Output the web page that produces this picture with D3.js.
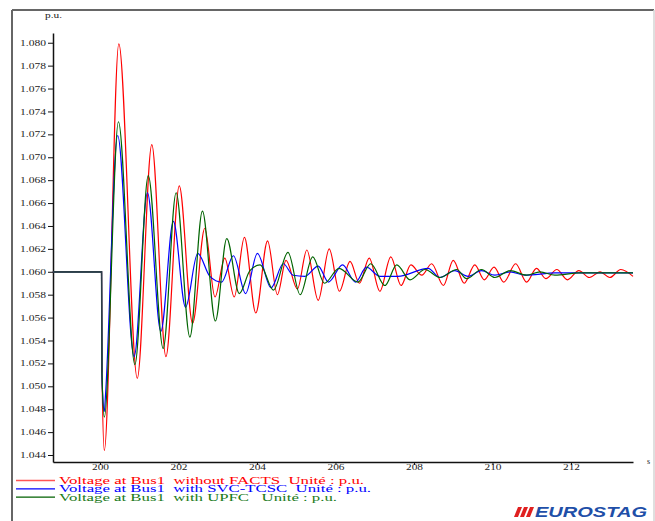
<!DOCTYPE html>
<html>
<head>
<meta charset="utf-8">
<script src="https://cdn.jsdelivr.net/npm/d3@7"></script>
<style>
  body { margin: 0; background: #fff; }
  svg { display: block; }
  .tick text { font-family: "Liberation Serif", "DejaVu Serif", serif; font-size: 8px; fill: #222; }
  .legendText { font-family: "Liberation Serif", serif; font-size: 10px; white-space: pre; }
</style>
</head>
<body>
<div id="chart"></div>
<script>
// time (s) / voltage (p.u.) pairs
var noFactsData = [
  [198.80, 1.0600], [200.04, 1.0600], [200.05, 1.0515], [200.11, 1.0444], [200.48, 1.0799],
  [200.95, 1.0507], [201.32, 1.0711], [201.68, 1.0526], [202.02, 1.0675], [202.36, 1.0555],
  [202.67, 1.0638], [202.93, 1.0578], [203.18, 1.0612], [203.42, 1.0578], [203.68, 1.0630],
  [203.97, 1.0564], [204.27, 1.0627], [204.52, 1.0580], [204.74, 1.0610], [205.03, 1.0585],
  [205.27, 1.0619], [205.56, 1.0575], [205.84, 1.0620], [206.10, 1.0583], [206.37, 1.0609],
  [206.61, 1.0590], [206.86, 1.0612], [207.13, 1.0583], [207.41, 1.0613], [207.67, 1.0588],
  [207.92, 1.0606], [208.20, 1.0597], [208.45, 1.0607], [208.75, 1.0588], [209.00, 1.0610],
  [209.28, 1.0590], [209.55, 1.0606], [209.79, 1.0593], [210.04, 1.0604], [210.29, 1.0591],
  [210.59, 1.0607], [210.87, 1.0591], [211.12, 1.0603], [211.36, 1.0594], [211.64, 1.0602],
  [211.91, 1.0593], [212.20, 1.0601], [212.47, 1.0595], [212.74, 1.0600], [212.99, 1.0595],
  [213.27, 1.0602], [213.58, 1.0596]
];

var svcTcscData = [
  [198.80, 1.0600], [200.04, 1.0600], [200.05, 1.0510], [200.07, 1.0492], [200.11, 1.0478],
  [200.14, 1.0492], [200.45, 1.0719], [200.87, 1.0526], [201.21, 1.0669], [201.55, 1.0548],
  [201.87, 1.0644], [202.18, 1.0569], [202.49, 1.0616], [202.80, 1.0596], [203.10, 1.0591],
  [203.40, 1.0614], [203.71, 1.0581], [204.01, 1.0616], [204.36, 1.0586], [204.67, 1.0607],
  [204.92, 1.0597], [205.22, 1.0596], [205.56, 1.0605], [205.82, 1.0591], [206.18, 1.0606],
  [206.51, 1.0591], [206.79, 1.0604], [207.13, 1.0596], [207.59, 1.0596], [208.36, 1.0603],
  [208.66, 1.0595], [209.04, 1.0601], [209.38, 1.0596], [209.72, 1.0601], [210.06, 1.0597],
  [210.45, 1.0600], [210.83, 1.0597], [211.60, 1.0599], [213.58, 1.0599]
];

var upfcData = [
  [198.80, 1.0600], [200.04, 1.0600], [200.05, 1.0512], [200.11, 1.0473], [200.47, 1.0731],
  [200.89, 1.0519], [201.23, 1.0684], [201.61, 1.0533], [201.94, 1.0669], [202.29, 1.0543],
  [202.61, 1.0653], [202.94, 1.0557], [203.23, 1.0629], [203.55, 1.0581], [203.82, 1.0601],
  [204.08, 1.0606], [204.42, 1.0584], [204.79, 1.0617], [205.10, 1.0580], [205.42, 1.0613],
  [205.72, 1.0590], [206.09, 1.0603], [206.57, 1.0591], [206.90, 1.0607], [207.26, 1.0588],
  [207.56, 1.0606], [207.90, 1.0593], [208.28, 1.0602], [208.66, 1.0595], [209.09, 1.0602],
  [209.34, 1.0594], [209.72, 1.0602], [210.06, 1.0595], [210.45, 1.0601], [210.87, 1.0597],
  [211.21, 1.0600], [211.59, 1.0597], [212.20, 1.0599], [213.58, 1.0599]
];

var yTicks = [1.044, 1.046, 1.048, 1.050, 1.052, 1.054, 1.056, 1.058, 1.060, 1.062,
  1.064, 1.066, 1.068, 1.070, 1.072, 1.074, 1.076, 1.078, 1.080];
var xTicks = [200, 202, 204, 206, 208, 210, 212];

var legendLabels = [
  "Voltage at Bus1  without FACTS  Unité : p.u.",
  "Voltage at Bus1  with SVC-TCSC  Unité : p.u.",
  "Voltage at Bus1  with UPFC   Unité : p.u."
];

var svgWidth = 655;
var svgHeight = 521;

var margin = { top: 33, right: 22, bottom: 59, left: 53 };
var width = svgWidth - margin.left - margin.right;
var height = svgHeight - margin.top - margin.bottom;

var svg = d3.select("#chart")
  .append("svg")
  .attr("width", svgWidth)
  .attr("height", svgHeight);

// outer frame
svg.append("line").attr("x1", 12).attr("x2", 654).attr("y1", 10).attr("y2", 10)
  .attr("stroke", "#666").attr("stroke-width", 2);
svg.append("line").attr("x1", 12).attr("x2", 12).attr("y1", 10).attr("y2", 521)
  .attr("stroke", "#666").attr("stroke-width", 2);
svg.append("line").attr("x1", 654).attr("x2", 654).attr("y1", 10).attr("y2", 521)
  .attr("stroke", "#d4d4d4").attr("stroke-width", 1.5);

var chartGroup = svg.append("g")
  .attr("transform", `translate(${margin.left}, ${margin.top})`);

var xScale = d3.scaleLinear()
  .domain([198.803, 213.58])
  .range([0, width]);

var yScale = d3.scaleLinear()
  .domain([1.04339, 1.08085])
  .range([height, 0]);

var xAxis = d3.axisBottom(xScale).tickValues(xTicks).tickFormat(d3.format("d"))
  .tickSizeInner(3).tickSizeOuter(0);
var yAxis = d3.axisLeft(yScale).tickValues(yTicks).tickFormat(d3.format(".3f"))
  .tickSizeInner(5).tickSizeOuter(0);

var gx = chartGroup.append("g")
  .attr("transform", `translate(0, ${height})`)
  .call(xAxis);
var gy = chartGroup.append("g")
  .call(yAxis);

[gx, gy].forEach(function(g) {
  g.select(".domain").attr("stroke", "#111").attr("stroke-width", 1.5);
  g.selectAll(".tick line").attr("stroke", "#111");
});
gx.selectAll(".tick text").attr("y", 8).attr("dy", 0)
  .attr("textLength", 17).attr("lengthAdjust", "spacingAndGlyphs");
gy.selectAll(".tick text").attr("x", -7)
  .attr("textLength", 26).attr("lengthAdjust", "spacingAndGlyphs");

// unit labels
chartGroup.append("text")
  .attr("x", -8).attr("y", -15)
  .attr("font-family", "Liberation Serif, serif").attr("font-size", 8).attr("fill", "#222")
  .attr("textLength", 17).attr("lengthAdjust", "spacingAndGlyphs")
  .text("p.u.");
chartGroup.append("text")
  .attr("x", width + 14).attr("y", height + 2)
  .attr("font-family", "Liberation Serif, serif").attr("font-size", 8).attr("fill", "#222")
  .text("s");

var line = d3.line()
  .x(d => xScale(d[0]))
  .y(d => yScale(d[1]))
  .curve(d3.curveMonotoneX);

var series = [
  { data: noFactsData, color: "#ff0000" },
  { data: svcTcscData, color: "#0000ff" },
  { data: upfcData, color: "#006400" }
];

chartGroup.selectAll(".curve")
  .data(series)
  .enter()
  .append("path")
  .attr("class", "curve")
  .attr("d", d => line(d.data))
  .attr("fill", "none")
  .attr("stroke", d => d.color)
  .attr("stroke-width", 1.2);

// the three curves coincide before the fault and show up dark there
chartGroup.append("path")
  .attr("d", d3.line().x(d => xScale(d[0])).y(d => yScale(d[1]))(upfcData.slice(0, 3)))
  .attr("fill", "none")
  .attr("stroke", "#2c3e48")
  .attr("stroke-width", 1.4);

// legend
var legendLineColors = ["#ff5555", "#0000ff", "#006000"];
var legendTextColors = ["#ff0000", "#0000ff", "#1a7a1a"];
var legendWidths = [305, 312, 278];

var legend = svg.append("g");
legendLabels.forEach(function(label, i) {
  var y = 480.5 + i * 8.3;
  legend.append("line")
    .attr("x1", 16).attr("x2", 55).attr("y1", y).attr("y2", y)
    .attr("stroke", legendLineColors[i]).attr("stroke-width", i === 0 ? 1.6 : 1.3);
  legend.append("text")
    .attr("class", "legendText")
    .attr("x", 59).attr("y", y + 3.5)
    .attr("fill", legendTextColors[i])
    .attr("textLength", legendWidths[i]).attr("lengthAdjust", "spacingAndGlyphs")
    .text(label);
});

// EUROSTAG logo
var logo = svg.append("g");
[0, 6, 12].forEach(function(dx) {
  logo.append("polygon")
    .attr("points", `${514 + dx},517 ${518 + dx},517 ${522 + dx},507 ${518 + dx},507`)
    .attr("fill", "#e02020");
});
logo.append("text")
  .attr("x", 535).attr("y", 517)
  .attr("font-family", "Liberation Sans, Arial, sans-serif")
  .attr("font-size", 14).attr("font-weight", "bold").attr("font-style", "italic")
  .attr("fill", "#1f4fa8")
  .attr("textLength", 112).attr("lengthAdjust", "spacingAndGlyphs")
  .text("EUROSTAG");
</script>
</body>
</html>
